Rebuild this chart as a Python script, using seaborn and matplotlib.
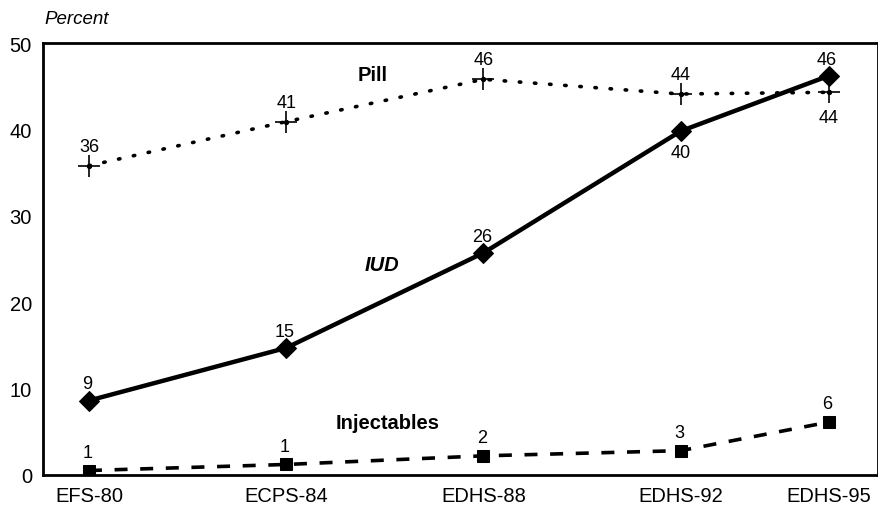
import numpy as np
import pandas as pd
import seaborn as sns
from matplotlib import pyplot as plt

# dados (Egito, uso de metodos)
anos = [80, 84, 88, 92, 95]
pesquisas = ['EFS-80', 'ECPS-84', 'EDHS-88', 'EDHS-92', 'EDHS-95']
pilula = [35.8, 40.9, 45.8, 44.1, 44.3]
diu = [8.6, 14.7, 25.7, 39.8, 46.2]
injetaveis = [0.5, 1.2, 2.2, 2.8, 6.1]
rot_pilula = ['36', '41', '46', '44', '44']
rot_diu = ['9', '15', '26', '40', '46']
rot_inj = ['1', '1', '2', '3', '6']

df = pd.DataFrame({'ano': anos, 'Pill': pilula, 'IUD': diu, 'Injectables': injetaveis})

sns.set_theme(style="white", rc={'text.color': 'black', 'xtick.color': 'black',
                                 'ytick.color': 'black', 'axes.labelcolor': 'black'})
plt.rcParams['font.family'] = ['Liberation Sans', 'DejaVu Sans']

fig = plt.figure(figsize=(8.79, 5.10), dpi=100)
ax = fig.add_axes([0.049, 0.067, 0.9497, 0.8466])

sns.lineplot(data=df, x='ano', y='Pill', ax=ax, color='black', lw=2.6,
             linestyle=(0, (0.4, 3.8)), dash_capstyle='round', solid_capstyle='round')
sns.lineplot(data=df, x='ano', y='IUD', ax=ax, color='black', lw=3.2,
             marker='D', markersize=10, markeredgecolor='black')
sns.lineplot(data=df, x='ano', y='Injectables', ax=ax, color='black', lw=2.6,
             linestyle=(0, (3.6, 3.5)), marker='s', markersize=9, markeredgecolor='black')
# marcador "+" da pilula
ax.scatter(df['ano'], df['Pill'], marker='+', s=260, color='black', linewidths=1.2, zorder=5)
ax.scatter(df['ano'], df['Pill'], marker='o', s=8, color='black', zorder=6)

fs = 13
for x, y, r in zip(anos, pilula, rot_pilula):
    if x == 95:
        ax.annotate(r, (x, y), xytext=(0, -12), textcoords='offset points', ha='center', va='top', fontsize=fs)
    else:
        ax.annotate(r, (x, y), xytext=(0, 8), textcoords='offset points', ha='center', va='bottom', fontsize=fs)
for x, y, r in zip(anos, diu, rot_diu):
    if x == 92:
        ax.annotate(r, (x, y), xytext=(0, -9), textcoords='offset points', ha='center', va='top', fontsize=fs)
    else:
        ax.annotate(r, (x, y), xytext=(-1, 6), textcoords='offset points', ha='center', va='bottom', fontsize=fs)
for x, y, r in zip(anos, injetaveis, rot_inj):
    ax.annotate(r, (x, y), xytext=(-1, 7), textcoords='offset points', ha='center', va='bottom', fontsize=fs)

ax.text(85.75, 46.4, 'Pill', fontsize=14.5, fontweight='bold', ha='center', va='center')
ax.text(85.95, 24.4, 'IUD', fontsize=14.5, fontweight='bold', fontstyle='italic', ha='center', va='center')
ax.text(86.05, 6.1, 'Injectables', fontsize=14.5, fontweight='bold', ha='center', va='center')

ax.set_xlim(79.07, 96.0)
ax.set_ylim(0, 50)
ax.set_xticks(anos)
ax.set_xticklabels(pesquisas, fontsize=14.5)
ax.set_yticks([0, 10, 20, 30, 40, 50])
ax.set_yticklabels(['0', '10', '20', '30', '40', '50'], fontsize=14.5)
ax.tick_params(axis='x', direction='out', length=5, width=1.5, color='black', pad=3)
ax.tick_params(axis='y', length=0, pad=8)
ax.set_xlabel('')
ax.set_ylabel('')
for s in ax.spines.values():
    s.set_color('black')
    s.set_linewidth(2)

fig.text(0.05, 0.962, 'Percent', fontsize=13.5, fontstyle='italic', ha='left', va='center')

plt.savefig('out.png', dpi=100)
